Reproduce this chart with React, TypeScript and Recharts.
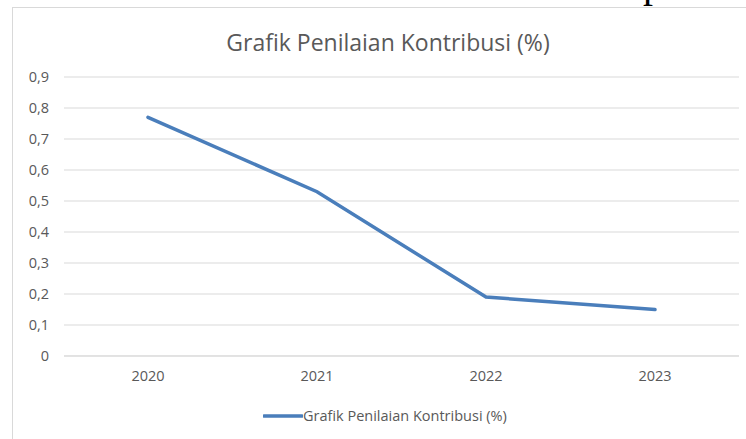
import { LineChart, Line, XAxis, YAxis, CartesianGrid, Legend } from 'recharts';

const years = ['2020', '2021', '2022', '2023'];
const contribution = [0.77, 0.53, 0.19, 0.15];
const yTicks = [0, 0.1, 0.2, 0.3, 0.4, 0.5, 0.6, 0.7, 0.8, 0.9];
const seriesName = 'Grafik Penilaian Kontribusi (%)';

const data = years.map((year, i) => ({ year, value: contribution[i] }));

const LINE_COLOR = '#4A7EBB';
const TEXT_COLOR = '#595959';
const GRID_COLOR = '#d9d9d9';
const FONT = "'Open Sans', 'Noto Sans', sans-serif";

const fmt = (v: number) => (v === 0 ? '0' : v.toFixed(1).replace('.', ','));

const LegendContent = () => (
  <div style={{ display: 'flex', alignItems: 'center', lineHeight: '18px', whiteSpace: 'nowrap' }}>
    <svg width={40} height={6} style={{ display: 'block' }}>
      <line x1={1} y1={3} x2={39} y2={3} stroke={LINE_COLOR} strokeWidth={3.5} strokeLinecap="round" />
    </svg>
    <span style={{ fontSize: 14.5, color: TEXT_COLOR }}>{seriesName}</span>
  </div>
);

export default function App() {
  return (
    <div style={{ position: 'fixed', left: 0, top: 0, width: 746, height: 439, overflow: 'hidden', background: '#fff', fontFamily: FONT }}>
      {/* bit of the page text above the chart */}
      <svg width={746} height={20} style={{ position: 'absolute', left: 0, top: 0 }}>
        <text x={643} y={-2.7} fontFamily="'Liberation Serif', serif" fontSize={40} fill="#000">p</text>
      </svg>
      <div style={{ position: 'absolute', left: 12, top: 7, width: 800, height: 500, border: `1px solid ${GRID_COLOR}` }} />
      <div style={{ position: 'absolute', left: 0, top: 30, width: 776, textAlign: 'center', fontSize: 23, lineHeight: '24px', color: TEXT_COLOR }}>
        {seriesName}
      </div>
      <div style={{ position: 'absolute', left: 0, top: 0 }}>
        <LineChart width={746} height={439} data={data} margin={{ top: 77, right: 7, bottom: 53, left: 0 }}>
          <CartesianGrid vertical={false} stroke={GRID_COLOR} />
          <XAxis
            dataKey="year"
            height={30}
            padding={{ left: 84, right: 84 }}
            tickLine={false}
            axisLine={{ stroke: GRID_COLOR }}
            tickSize={0}
            tickMargin={15}
            tick={{ fill: TEXT_COLOR, fontSize: 14.5 }}
          />
          <YAxis
            width={64}
            domain={[0, 0.9]}
            ticks={yTicks}
            interval={0}
            tickFormatter={fmt}
            tickLine={false}
            axisLine={false}
            tickSize={0}
            tickMargin={15}
            tick={{ fill: TEXT_COLOR, fontSize: 14.5 }}
          />
          <Legend
            layout="horizontal"
            verticalAlign="middle"
            align="center"
            content={<LegendContent />}
            wrapperStyle={{ top: 407, left: 263, width: 'auto' }}
          />
          <Line
            type="linear"
            dataKey="value"
            name={seriesName}
            stroke={LINE_COLOR}
            strokeWidth={3.5}
            strokeLinecap="round"
            dot={false}
            activeDot={false}
            isAnimationActive={false}
          />
        </LineChart>
      </div>
    </div>
  );
}
